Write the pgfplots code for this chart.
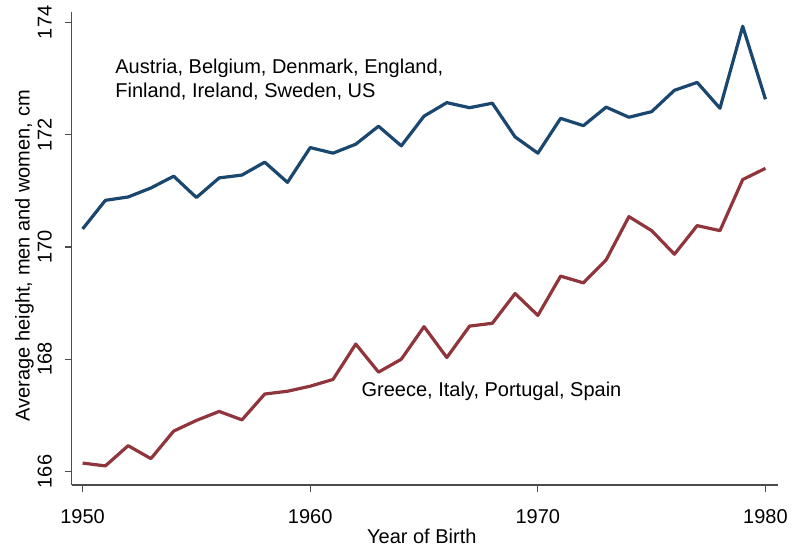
\documentclass[border=0pt]{standalone}
\usepackage{fontspec}
\setmainfont{Liberation Sans}
\usepackage{pgfplots}
\pgfplotsset{compat=1.18}
\definecolor{navyS}{RGB}{26,71,111}
\definecolor{maroonS}{RGB}{144,53,59}
\begin{document}
\begin{tikzpicture}[font=\fontsize{10}{12}\selectfont]
\begin{axis}[
  scale only axis, width=353.15pt, height=236.65pt,
  at={(0,0)}, anchor=south west,
  xmin=1949.52, xmax=1980.55, ymin=165.76, ymax=174.19,
  axis x line*=bottom, axis y line*=left,
  axis line style={black!70, line width=0.6pt, -},
  tick style={black!70, line width=0.6pt},
  tick align=outside, major tick length=3.5pt,
  xtick={1950,1960,1970,1980}, ytick={166,168,170,172,174},
  /pgf/number format/assume math mode=true,
  /pgf/number format/1000 sep={},
  xticklabel style={anchor=north, inner sep=0pt, yshift=-8.35pt},
  yticklabel style={xshift=-6.5pt, rotate=90, anchor=base, inner sep=0pt},
  xlabel={Year of Birth},
  ylabel={Average height, men and women, cm},
  every axis x label/.style={at={(rel axis cs:0.5,0)}, anchor=base, inner sep=0pt, yshift=-29.15pt, xshift=-1.5pt},
  every axis y label/.style={at={(rel axis cs:0,0.5)}, xshift=-21pt, yshift=-3.7pt, rotate=90, anchor=base, inner sep=0pt},
  clip=false,
]
\addplot[navyS, line width=1.6pt, line join=round] coordinates {
(1950,170.32) (1951,170.83) (1952,170.89) (1953,171.05) (1954,171.26)
(1955,170.88) (1956,171.23) (1957,171.28) (1958,171.51) (1959,171.15)
(1960,171.77) (1961,171.67) (1962,171.83) (1963,172.15) (1964,171.80)
(1965,172.33) (1966,172.57) (1967,172.48) (1968,172.56) (1969,171.96)
(1970,171.67) (1971,172.29) (1972,172.16) (1973,172.49) (1974,172.31)
(1975,172.41) (1976,172.79) (1977,172.93) (1978,172.47) (1979,173.93)
(1980,172.63)
};
\addplot[maroonS, line width=1.6pt, line join=round] coordinates {
(1950,166.15) (1951,166.10) (1952,166.46) (1953,166.23) (1954,166.72)
(1955,166.91) (1956,167.07) (1957,166.92) (1958,167.38) (1959,167.43)
(1960,167.52) (1961,167.64) (1962,168.27) (1963,167.77) (1964,168.00)
(1965,168.58) (1966,168.03) (1967,168.59) (1968,168.64) (1969,169.17)
(1970,168.78) (1971,169.48) (1972,169.36) (1973,169.77) (1974,170.54)
(1975,170.29) (1976,169.87) (1977,170.38) (1978,170.29) (1979,171.20)
(1980,171.40)
};
\node[anchor=base west, inner sep=0pt] at (axis cs:1951.42,173.09) {Austria, Belgium, Denmark, England,};
\node[anchor=base west, inner sep=0pt] at (axis cs:1951.42,172.67) {Finland, Ireland, Sweden, US};
\node[anchor=base west, inner sep=0pt] at (axis cs:1962.24,167.33) {Greece, Italy, Portugal, Spain};
\end{axis}
\path (-35.85pt,-32pt) rectangle (364.15pt,242.5pt);
\end{tikzpicture}
\end{document}
